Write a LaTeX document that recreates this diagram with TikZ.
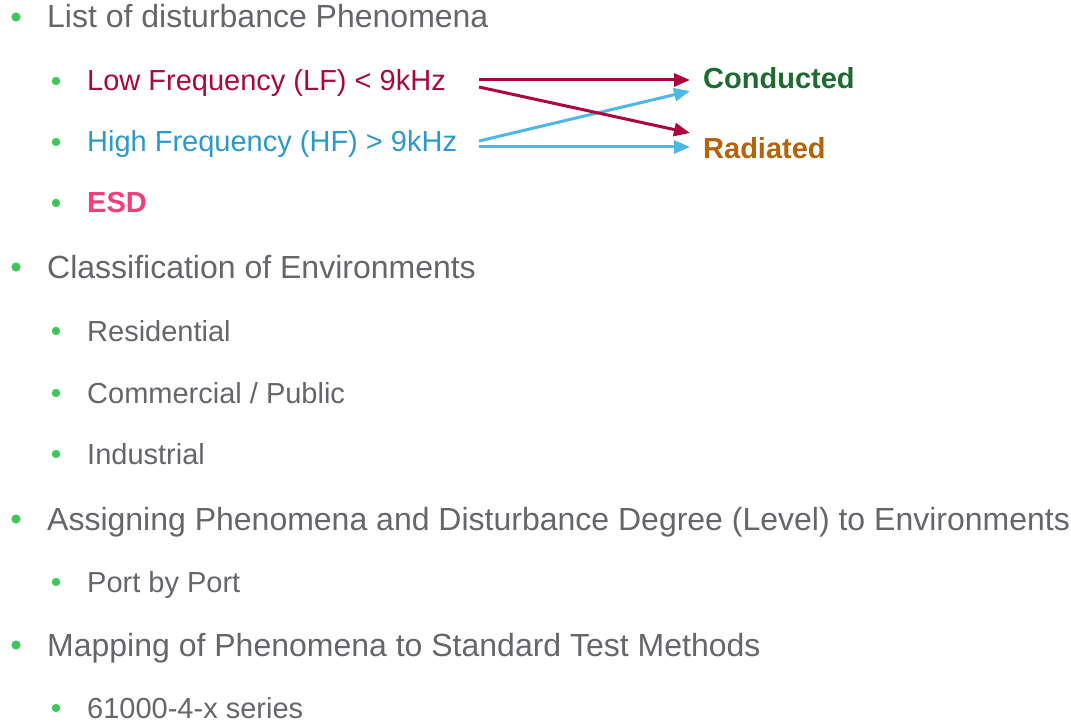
\documentclass[tikz,border=0pt]{standalone}
\usepackage{fontspec}
\setmainfont{Liberation Sans}
\usepackage{tikz}
\usetikzlibrary{arrows.meta}

\definecolor{txtgray}{RGB}{100,102,108}
\definecolor{dotgreen}{RGB}{61,200,92}
\definecolor{lfred}{RGB}{172,6,64}
\definecolor{hfblue}{RGB}{43,152,207}
\definecolor{hfarrowblue}{RGB}{77,184,232}
\definecolor{esdpink}{RGB}{245,61,126}
\definecolor{condgreen}{RGB}{30,107,46}
\definecolor{radbrown}{RGB}{181,98,10}

\begin{document}
\begin{tikzpicture}[x=1pt,y=-1pt,
  lvlone/.style={anchor=base west,inner sep=0pt,text=txtgray,font=\fontsize{32}{38}\selectfont},
  lvltwo/.style={anchor=base west,inner sep=0pt,text=txtgray,font=\fontsize{29}{35}\selectfont},
  dotone/.style={fill=dotgreen},
  lfarrow/.style={draw=lfred,line width=3pt,-{Triangle[length=16pt,width=13pt]}},
  hfarrow/.style={draw=hfarrowblue,line width=3pt,-{Triangle[length=16pt,width=13pt]}}]
  \useasboundingbox (0,0) rectangle (1071,722) ;
  % first level
  \node[lvlone] (list) at (47,28) {List of disturbance Phenomena} ;
  \node[lvlone] (classif) at (47,278) {Classification of Environments} ;
  \node[lvlone] (assign) at (47,530) {Assigning Phenomena and Disturbance Degree (Level) to Environments} ;
  \node[lvlone] (mapping) at (47,656) {Mapping of Phenomena to Standard Test Methods} ;
  \foreach \y in {28,278,530,656} \fill[dotone] (16,\y-11) circle (4.6pt) ;
  % second level
  \node[lvltwo,text=lfred] (lf) at (87,91) {Low Frequency (LF) < 9kHz} ;
  \node[lvltwo,text=hfblue] (hf) at (87,152) {High Frequency (HF) > 9kHz} ;
  \node[lvltwo,text=esdpink,font=\fontsize{29}{35}\selectfont\bfseries] (esd) at (87,213) {ESD} ;
  \node[lvltwo] (resid) at (87,341) {Residential} ;
  \node[lvltwo] (commerc) at (87,403) {Commercial / Public} ;
  \node[lvltwo] (indus) at (87,464) {Industrial} ;
  \node[lvltwo] (port) at (87,592) {Port by Port} ;
  \node[lvltwo] (series) at (87,718) {61000-4-x series} ;
  \foreach \y in {91,152,213,341,403,464,592,718} \fill[dotone] (56,\y-10) circle (4.2pt) ;
  % coupling paths
  \node[lvltwo,text=condgreen,font=\fontsize{29}{35}\selectfont\bfseries] (cond) at (703,89) {Conducted} ;
  \node[lvltwo,text=radbrown,font=\fontsize{29}{35}\selectfont\bfseries] (rad) at (703,159) {Radiated} ;
  \coordinate (lfa) at (479,80) ;
  \coordinate (lfb) at (479,87) ;
  \coordinate (hfa) at (479,141) ;
  \coordinate (hfb) at (479,147) ;
  \coordinate (conda) at (690,80) ;
  \coordinate (condb) at (690,91) ;
  \coordinate (rada) at (690,133) ;
  \coordinate (radb) at (690,147) ;
  \draw[hfarrow] (hfa) -- (condb) ;
  \draw[hfarrow] (hfb) -- (radb) ;
  \draw[lfarrow] (lfa) -- (conda) ;
  \draw[lfarrow] (lfb) -- (rada) ;
\end{tikzpicture}
\end{document}
